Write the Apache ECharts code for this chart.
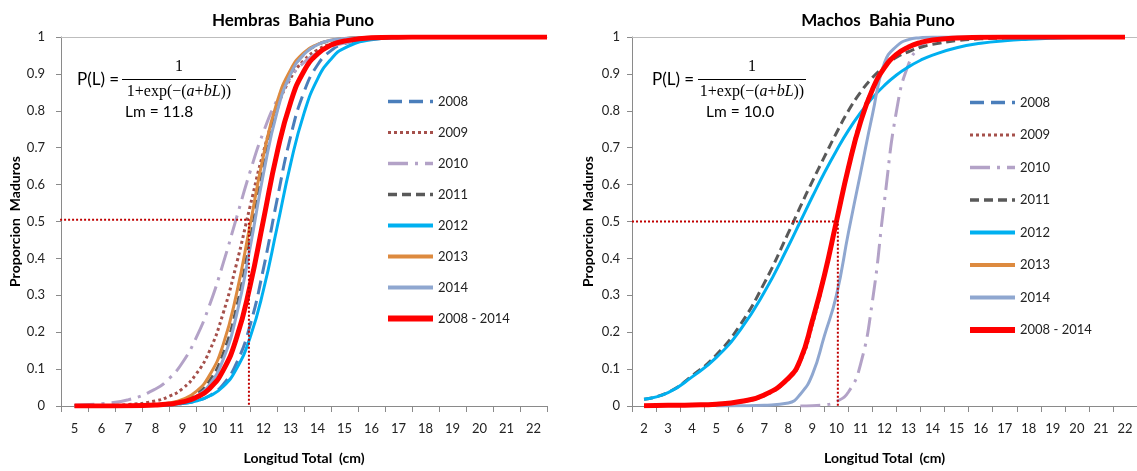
<!DOCTYPE html>
<html><head><meta charset="utf-8">
<script src="https://cdn.jsdelivr.net/npm/echarts/dist/echarts.min.js"></script>
<style>html,body{margin:0;padding:0;background:#fff}#c{width:1137px;height:471px}</style>
</head><body><div id="c"></div><script>
// ---------- DATA ----------
const LEFT_TICKS = ['5','6','7','8','9','10','11','12','13','14','15','16','17','18','19','20','21','22'];
const RIGHT_TICKS = ['2','3','4','5','6','7','8','9','10','11','12','13','14','15','16','17','18','19','20','21','22'];
const SERIES_NAMES = ['2008','2009','2010','2011','2012','2013','2014','2008 - 2014'];

// Hembras (left) – sample lengths (cm) and proportion mature per series
const H_X = [5,6,7,8,8.5,9,9.5,10,10.5,11,11.5,12,12.5,13,13.5,14,14.5,15,16,17,18,19,20,21,22,22.5];
const H_2008 = [0,0.0001,0.0003,0.0014,0.003,0.0064,0.0134,0.028,0.058,0.116,0.218,0.373,0.558,0.729,0.851,0.924,0.963,0.982,0.996,0.9991,0.9998,1,1,1,1,1];
const H_2009 = [0.0003,0.0011,0.0039,0.0138,0.026,0.047,0.086,0.149,0.250,0.385,0.540,0.689,0.807,0.888,0.937,0.965,0.981,0.990,0.997,0.9992,0.9998,1,1,1,1,1];
const H_2010 = [0.0022,0.0062,0.017,0.046,0.074,0.118,0.184,0.273,0.385,0.510,0.634,0.743,0.829,0.890,0.931,0.957,0.974,0.984,0.994,0.998,0.9993,0.9997,1,1,1,1];
const H_2011 = [0,0.0001,0.0006,0.0029,0.0065,0.0145,0.0317,0.068,0.141,0.267,0.450,0.646,0.802,0.901,0.953,0.979,0.990,0.9956,0.9991,0.9998,1,1,1,1,1,1];
const H_2012 = [0,0.0001,0.0004,0.0016,0.0033,0.0066,0.0133,0.027,0.052,0.101,0.185,0.315,0.483,0.655,0.793,0.886,0.940,0.970,0.9924,0.9981,0.9995,0.9999,1,1,1,1];
const H_2013 = [0,0.0002,0.0008,0.0038,0.0084,0.018,0.039,0.083,0.165,0.304,0.490,0.679,0.823,0.911,0.958,0.980,0.991,0.9959,0.9992,0.9998,1,1,1,1,1,1];
const H_2014 = [0,0.0001,0.0004,0.0023,0.0051,0.0117,0.026,0.058,0.125,0.246,0.428,0.630,0.796,0.899,0.953,0.979,0.991,0.9959,0.9992,0.9998,1,1,1,1,1,1];
const H_ALL  = [0,0.0001,0.0005,0.0024,0.0052,0.011,0.023,0.047,0.096,0.184,0.325,0.505,0.685,0.822,0.908,0.954,0.978,0.989,0.9977,0.9995,0.9999,1,1,1,1,1];
const H_REF_X = [4.17, 11.46, 11.46];
const H_REF_Y = [0.505, 0.505, 0];

// Machos (right)
const M_X = [2,3,4,5,6,7,8,8.5,9,9.5,10,10.5,11,11.5,12,12.5,13,13.5,14,15,16,17,18,19,20,21,22];
const M_2008 = [];
const M_2009 = [0.001,0.002,0.003,0.005,0.011,0.028,0.072,0.12,0.22,0.35,0.5,0.65,0.775,0.86,0.918,0.952,0.972,0.984,0.991,0.997,0.999,1,1,1,1,1,1];
const M_2010 = [null,null,null,null,null,null,null,0,0.001,0.003,0.012,0.038,0.112,0.285,0.557,0.80,0.926,0.975,0.992,0.999,1,1,1,1,1,1,1];
const M_2011 = [0.018,0.037,0.082,0.138,0.220,0.333,0.469,0.540,0.609,0.675,0.74,0.80,0.85,0.89,0.92,0.945,0.96,0.972,0.98,0.99,0.995,0.997,0.998,0.999,0.9993,0.9996,0.9998];
const M_2012 = [0.018,0.036,0.079,0.131,0.206,0.308,0.433,0.5,0.567,0.632,0.692,0.747,0.794,0.835,0.869,0.897,0.919,0.937,0.951,0.971,0.983,0.990,0.994,0.9966,0.998,0.9988,0.9993];
const M_2013 = [];
const M_2014 = [null,null,null,0,0.0005,0.002,0.008,0.032,0.085,0.19,0.30,0.47,0.63,0.79,0.93,0.975,0.993,0.998,1,1,1,1,1,1,1,1,1];
const M_ALL  = [0.001,0.002,0.003,0.005,0.012,0.03,0.075,0.125,0.231,0.354,0.5,0.646,0.769,0.858,0.917,0.953,0.973,0.985,0.992,0.9975,0.9993,1,1,1,1,1,1];
const M_REF_X = [1.5, 10.06, 10.06];
const M_REF_Y = [0.5, 0.5, 0];

// ---------- STYLE ----------
const STY = {
  '2008': {color:'#4A7EBB', width:3, type:[14,7], lw:3.5},
  '2009': {color:'#A5504B', width:3, type:[3,3], lw:3},
  '2010': {color:'#B3A2C7', width:3, type:[20,7,3,7], lw:3.5},
  '2011': {color:'#595959', width:3, type:[9,5], lw:3.5},
  '2012': {color:'#00B0F0', width:3, type:'solid', lw:4},
  '2013': {color:'#DD8A3F', width:3, type:'solid', lw:4},
  '2014': {color:'#8FA7D0', width:3, type:'solid', lw:4},
  '2008 - 2014': {color:'#FF0000', width:5, type:'solid', lw:6}
};
const FONT = 'Lato, "Liberation Sans", sans-serif';
const AX = '#8A8A8A';

function pairs(xs, ys){ const d=[]; xs.forEach((x,i)=>{ if(ys[i]!=null) d.push([x, ys[i]]); }); return d; }
function curve(name, xs, ys, idx){
  const s = STY[name];
  return {name, type:'line', xAxisIndex: idx*3, yAxisIndex: idx, data: pairs(xs, ys), symbol:'none',
    smooth:0.5, lineStyle:{color:s.color, width:s.width, type:s.type, cap:'butt'},
    itemStyle:{color:s.color}, emphasis:{disabled:true}, silent:true};
}
function ref(xs, ys, idx){
  return {name:'ref'+idx, type:'line', xAxisIndex: idx*3, yAxisIndex: idx, data: pairs(xs, ys), symbol:'none',
    clip:false, lineStyle:{color:'#C00000', width:2, type:[2,2]}, silent:true, z:5};
}

const H_SETS = [H_2008,H_2009,H_2010,H_2011,H_2012,H_2013,H_2014,H_ALL];
const M_SETS = [M_2008,M_2009,M_2010,M_2011,M_2012,M_2013,M_2014,M_ALL];
const series = [];
SERIES_NAMES.forEach((n,i)=>series.push(curve(n, H_X, H_SETS[i], 0)));
series.push(ref(H_REF_X, H_REF_Y, 0));
SERIES_NAMES.forEach((n,i)=>series.push(curve(n, M_X, M_SETS[i], 1)));
series.push(ref(M_REF_X, M_REF_Y, 1));

function xAxes(g, ticks, min, max){
  return [
    {type:'value', gridIndex:g, min, max, show:false},
    {type:'category', gridIndex:g, data:ticks, position:'bottom', boundaryGap:true,
      axisLine:{lineStyle:{color:AX, width:1}},
      axisTick:{show:true, length:6, interval:0, lineStyle:{color:AX}},
      axisLabel:{interval:0, margin:16, fontSize:13, color:'#222', fontFamily:FONT},
      name:'Longitud Total  (cm)', nameLocation:'middle', nameGap:45,
      nameTextStyle:{fontWeight:'bold', fontSize:14, color:'#000', fontFamily:FONT}},
    {type:'category', gridIndex:g, data:ticks, position:'top',
      axisLine:{lineStyle:{color:'#BDBDBD', width:1}}, axisTick:{show:false}, axisLabel:{show:false}}
  ];
}
function yAxis(g, margin){
  return {type:'value', gridIndex:g, min:0, max:1, interval:0.1,
    axisLine:{show:true, lineStyle:{color:AX, width:1}},
    axisTick:{show:true, length:5, lineStyle:{color:AX}},
    splitLine:{show:false},
    axisLabel:{margin, fontSize:13, color:'#222', fontFamily:FONT,
      formatter:v=> (v===0?'0':(Math.abs(v-1)<1e-9?'1':v.toFixed(1)))},
    name:'Proporcion  Maduros', nameLocation:'middle', nameRotate:90, nameGap:37,
    nameTextStyle:{fontWeight:'bold', fontSize:14, color:'#000', fontFamily:FONT}};
}
function legend(left, top, gap){
  return {data:SERIES_NAMES.map(n=>({name:n, lineStyle:{width:STY[n].lw}})),
    left, top, padding:0, orient:'vertical', itemWidth:45, itemHeight:14, itemGap:gap,
    selectedMode:false, itemStyle:{opacity:0}, textStyle:{fontSize:13, color:'#222', fontFamily:FONT}};
}
function eq(xl, xc, x1, x2, lmx, lm){
  const serif = '"Liberation Serif", "DejaVu Serif", serif';
  return [
    {type:'text', x:xl, y:80, style:{text:'P(L) =', font:'17px '+FONT, fill:'#000', verticalAlign:'middle'}},
    {type:'text', x:xc, y:67, style:{text:'1', font:'16px '+serif, fill:'#000', align:'center', verticalAlign:'middle'}},
    {type:'line', shape:{x1, y1:79.5, x2, y2:79.5}, style:{stroke:'#000', lineWidth:1}},
    {type:'text', x:xc, y:92, style:{text:'{n|1+exp(−(}{i|a}{n|+}{i|bL}{n|))}', align:'center', verticalAlign:'middle',
      rich:{n:{font:'16px '+serif, fill:'#000'}, i:{font:'italic 16px '+serif, fill:'#000'}}}},
    {type:'text', x:lmx, y:112, style:{text:lm, font:'15.5px '+FONT, fill:'#000', align:'left', verticalAlign:'middle'}}
  ];
}

const chart = echarts.init(document.getElementById('c'), null, {renderer:'canvas'});
chart.setOption({
  animation:false,
  backgroundColor:'#fff',
  title:[
    {text:'Hembras  Bahia Puno', left:288, top:7, textAlign:'center', textStyle:{fontSize:17, fontWeight:'bold', color:'#000', fontFamily:FONT}},
    {text:'Machos  Bahia Puno', left:873, top:7, textAlign:'center', textStyle:{fontSize:17, fontWeight:'bold', color:'#000', fontFamily:FONT}}
  ],
  grid:[
    {left:61, top:37, width:486, height:369, containLabel:false},
    {left:632, top:37, width:505, height:369, containLabel:false}
  ],
  xAxis:[...xAxes(0, LEFT_TICKS, 4.5, 22.5), ...xAxes(1, RIGHT_TICKS, 1.5, 22.5)],
  yAxis:[yAxis(0, 16), yAxis(1, 12)],
  legend:[legend(385, 95, 18), legend(967, 96, 19.5)],
  graphic:[...eq(77, 179, 122, 236, 125, 'Lm = 11.8'), ...eq(652, 752, 698, 806, 706, 'Lm = 10.0')],
  series
});
</script></body></html>
